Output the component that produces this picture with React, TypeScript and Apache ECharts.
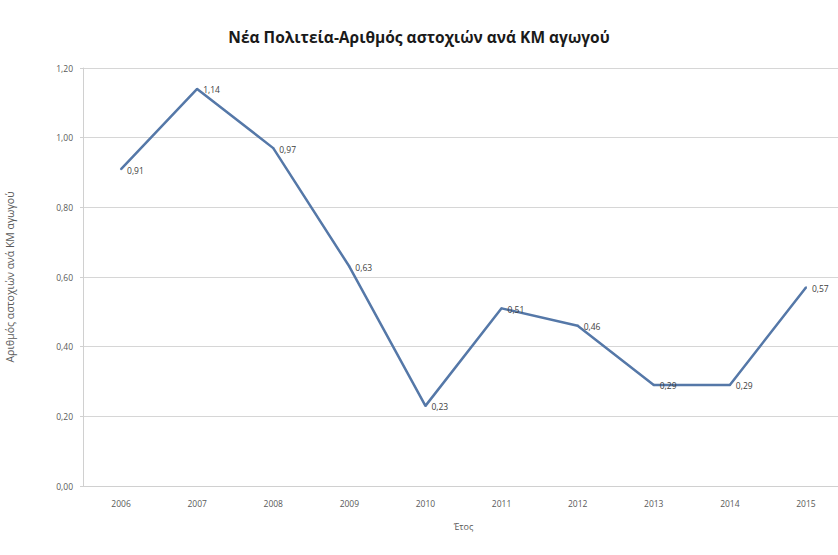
import React, { useEffect, useRef } from "react";
import * as echarts from "echarts";

const title = "Νέα Πολιτεία-Αριθμός αστοχιών ανά ΚΜ αγωγού";
const years = ["2006", "2007", "2008", "2009", "2010", "2011", "2012", "2013", "2014", "2015"];
const values = [0.91, 1.14, 0.97, 0.63, 0.23, 0.51, 0.46, 0.29, 0.29, 0.57];
const yAxisName = "Αριθμός αστοχιών ανά ΚΜ αγωγού";
const xAxisName = "Έτος";

const fmt = (v: number) => v.toFixed(2).replace(".", ",");
const FONT = "Open Sans";

export default function App() {
  const ref = useRef<HTMLDivElement>(null);
  useEffect(() => {
    if (!ref.current) return;
    const chart = echarts.init(ref.current, undefined, { renderer: "svg" });
    chart.setOption({
      animation: false,
      backgroundColor: "#ffffff",
      title: {
        text: title,
        left: "center",
        top: 24,
        textStyle: { fontFamily: FONT, fontWeight: "bold", fontSize: 15.5, color: "#1a1a1a" },
      },
      grid: { left: 83, right: -6, top: 68, bottom: 69, outerBoundsMode: "none", containLabel: false },
      xAxis: {
        type: "category",
        data: years,
        boundaryGap: true,
        name: xAxisName,
        nameLocation: "middle",
        nameGap: 36,
        nameTextStyle: { fontFamily: FONT, fontSize: 9, color: "#595959" },
        axisLine: { lineStyle: { color: "#d0d0d0", width: 1 } },
        axisTick: { show: false },
        axisLabel: { fontFamily: FONT, fontSize: 8.5, color: "#595959", margin: 13 },
      },
      yAxis: {
        type: "value",
        min: 0,
        max: 1.2,
        interval: 0.2,
        name: yAxisName,
        nameLocation: "middle",
        nameGap: 68,
        nameRotate: 90,
        nameTextStyle: { fontFamily: FONT, fontSize: 10.5, color: "#595959" },
        axisLine: { show: true, lineStyle: { color: "#d0d0d0", width: 1 } },
        axisTick: { show: true, length: 3, lineStyle: { color: "#d0d0d0" } },
        axisLabel: { fontFamily: FONT, fontSize: 8.5, color: "#595959", margin: 10, formatter: (v: number) => fmt(v) },
        splitLine: { lineStyle: { color: "#d6d6d6", width: 1 } },
      },
      series: [
        {
          type: "line",
          data: values,
          symbol: "circle",
          symbolSize: 2,
          showSymbol: true,
          itemStyle: { color: "#5578a8" },
          lineStyle: { color: "#5578a8", width: 2.5 },
          label: {
            show: true,
            position: "right",
            distance: 5,
            offset: [0, 1],
            fontFamily: FONT,
            fontSize: 8.5,
            color: "#404040",
            formatter: (p: any) => fmt(p.value),
          },
        },
      ],
    });
    return () => chart.dispose();
  }, []);
  return <div ref={ref} style={{ width: 838, height: 555, position: "absolute", left: 0, top: 0 }} />;
}
